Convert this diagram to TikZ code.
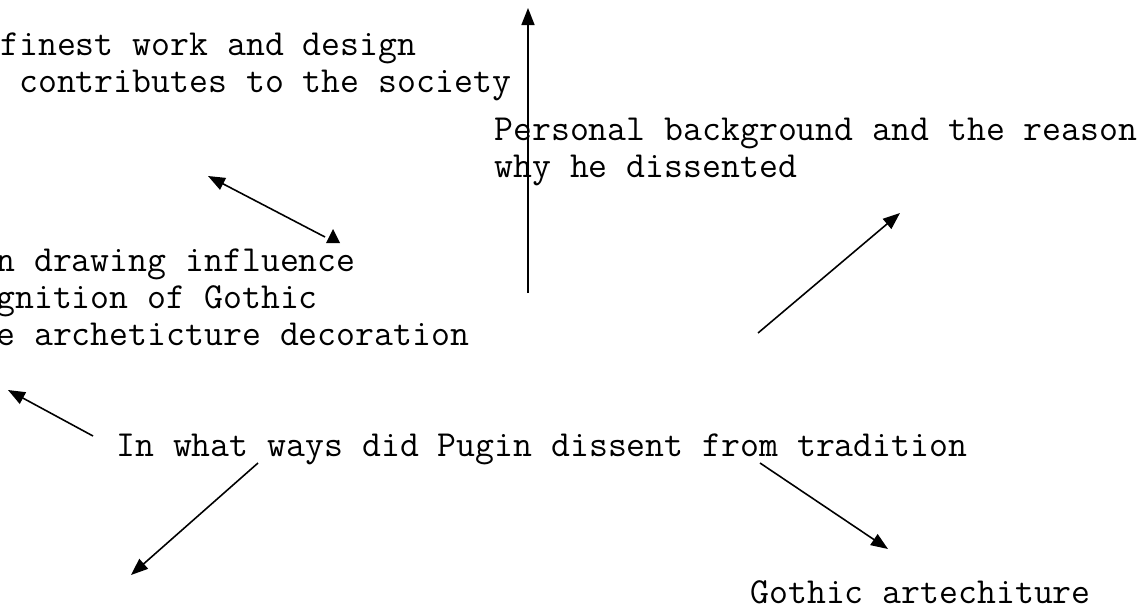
\documentclass[tikz,border=0pt]{standalone}
\usepackage{fontspec}
\usetikzlibrary{arrows.meta}
\newcommand{\mindfont}{\fontsize{20.9}{20.8}\selectfont\ttfamily}

\begin{document}
\begin{tikzpicture}[
                x=0.02cm, y=-0.02cm,
                every node/.style={inner sep=0pt, anchor=base west,
                    align=left, font=\mindfont},
                arrow/.style={-{Triangle[length=0.34cm, width=0.26cm]},
                    line width=0.9pt}
            ]
                \useasboundingbox (0,0) rectangle (1142,613);
                \clip (0,0) rectangle (1142,613);
                % topics (base = last line)
                \node (pugin)    at (116,456) {In what ways did Pugin dissent from tradition};
                \node (finest)   at (0,92)    {finest work and design\\\ contributes to the society};
                \node (personal) at (494,177) {Personal background and the reason\\why he dissented};
                \node (drawing)  at (-4,345)  {n drawing influence\\gnition of Gothic\\e archeticture decoration};
                \node (gothic)   at (750,603) {Gothic artechiture};
                % arrow ends
                \coordinate (up-s)    at (528,293);
                \coordinate (up-e)    at (528,8);
                \coordinate (pers-s)  at (758,333);
                \coordinate (pers-e)  at (900,213);
                \coordinate (fine-s)  at (325,237);
                \coordinate (fine-e)  at (208,176);
                \coordinate (stub)    at (333,229);
                \coordinate (left-s)  at (93,436);
                \coordinate (left-e)  at (8,390);
                \coordinate (down-s)  at (258,463);
                \coordinate (down-e)  at (131,575);
                \coordinate (goth-s)  at (760,463);
                \coordinate (goth-e)  at (888,549);
                \draw[arrow] (up-s)   -- (up-e);
                \draw[arrow] (pers-s) -- (pers-e);
                \draw[arrow] (fine-s) -- (fine-e);
                \draw[arrow] (left-s) -- (left-e);
                \draw[arrow] (down-s) -- (down-e);
                \draw[arrow] (goth-s) -- (goth-e);
                \fill (stub) -- ++(7,14) -- ++(-14,0) -- cycle;
            \end{tikzpicture}
\end{document}
